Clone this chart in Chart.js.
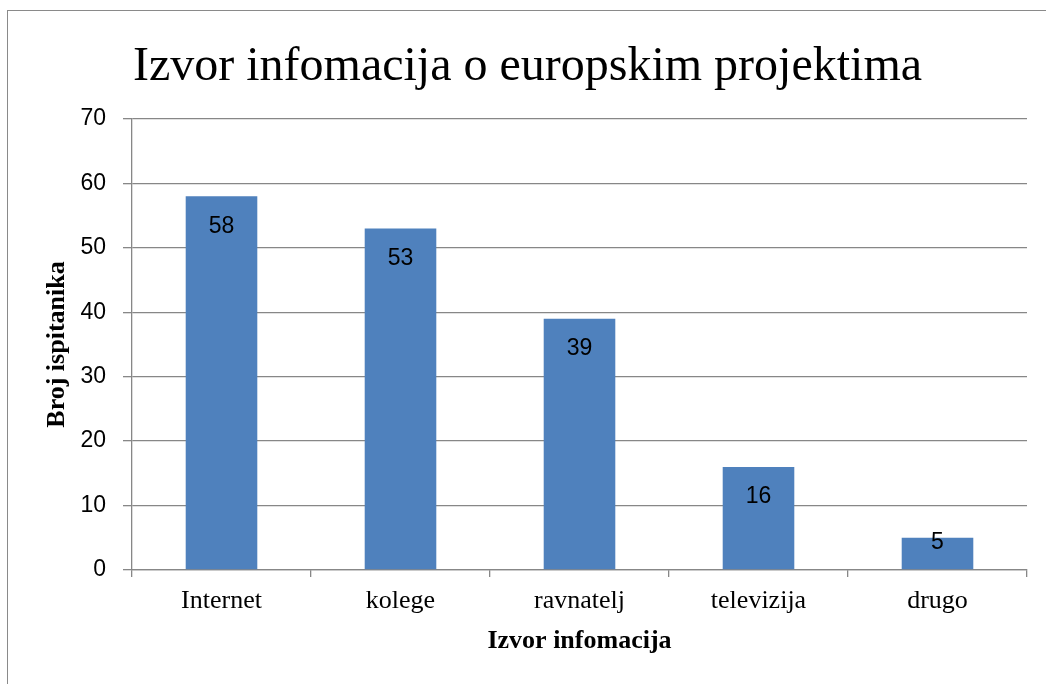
<!DOCTYPE html>
<html>
<head>
<meta charset="utf-8">
<script src="https://cdn.jsdelivr.net/npm/chart.js@4"></script>
<style>
  html, body { margin: 0; padding: 0; background: #ffffff; }
  #wrap { width: 1046px; height: 684px; position: relative; }
</style>
</head>
<body>
<div id="wrap"><canvas id="c" width="1046" height="684"></canvas></div>
<script>
const categories = ['Internet', 'kolege', 'ravnatelj', 'televizija', 'drugo'];
const values = [58, 53, 39, 16, 5];
const chartTitle = 'Izvor infomacija o europskim projektima';
const xTitle = 'Izvor infomacija';
const yTitle = 'Broj ispitanika';
const yMin = 0, yMax = 70, yStep = 10;

const GRID = '#878787';

const framePlugin = {
  id: 'frame',
  beforeDraw(chart) {
    const ctx = chart.ctx;
    ctx.save();
    ctx.fillStyle = '#ffffff';
    ctx.fillRect(0, 0, chart.width, chart.height);
    ctx.strokeStyle = '#8a8a8a';
    ctx.lineWidth = 1;
    ctx.strokeRect(7.5, 10.5, 2000, 2000);
    ctx.restore();
  }
};

const labelPlugin = {
  id: 'barLabels',
  afterDatasetsDraw(chart) {
    const ctx = chart.ctx;
    const meta = chart.getDatasetMeta(0);
    ctx.save();
    ctx.font = '23px "Liberation Sans", Arial, sans-serif';
    ctx.fillStyle = '#000000';
    ctx.textAlign = 'center';
    ctx.textBaseline = 'middle';
    meta.data.forEach((bar, i) => {
      const h = bar.base - bar.y;
      const y = h > 50 ? bar.y + 30 : bar.y + 5;
      ctx.fillText(String(chart.data.datasets[0].data[i]), bar.x, y);
    });
    ctx.restore();
  }
};

new Chart(document.getElementById('c'), {
  type: 'bar',
  data: {
    labels: categories,
    datasets: [{
      data: values,
      backgroundColor: '#4f81bd',
      borderWidth: 0,
      barPercentage: 0.4,
      categoryPercentage: 1.0
    }]
  },
  options: {
    responsive: false,
    animation: false,
    devicePixelRatio: 1,
    layout: { padding: { left: 28, right: 19, top: 0, bottom: 0 } },
    plugins: {
      legend: { display: false },
      tooltip: { enabled: false },
      title: {
        display: true,
        text: chartTitle,
        color: '#000000',
        font: { family: '"Liberation Serif", "Times New Roman", serif', size: 48, weight: 'normal', lineHeight: 1.2 },
        padding: { top: 39, bottom: 22.4 }
      }
    },
    scales: {
      x: {
        offset: true,
        afterFit(scale) { scale.height = 114; },
        border: { display: true, color: GRID, width: 1.3 },
        grid: { display: true, drawOnChartArea: false, drawTicks: true, tickLength: 7, color: GRID, lineWidth: 1.3, offset: true },
        ticks: {
          color: '#000000',
          padding: 9,
          font: { family: '"Liberation Serif", "Times New Roman", serif', size: 26, lineHeight: 1.2 }
        },
        title: {
          display: true,
          text: xTitle,
          color: '#000000',
          font: { family: '"Liberation Serif", "Times New Roman", serif', size: 26, weight: 'bold', lineHeight: 1.2 },
          padding: { top: 0, bottom: 27.4 }
        }
      },
      y: {
        min: yMin,
        max: yMax,
        afterFit(scale) { scale.width = 104; },
        border: { display: true, color: GRID, width: 1.3 },
        grid: { color: GRID, lineWidth: 1.3, drawTicks: true, tickLength: 9 },
        ticks: {
          stepSize: yStep,
          color: '#000000',
          padding: 17,
          font: { family: '"Liberation Sans", Arial, sans-serif', size: 23, lineHeight: 1.2 }
        },
        title: {
          display: true,
          text: yTitle,
          color: '#000000',
          font: { family: '"Liberation Serif", "Times New Roman", serif', size: 26, weight: 'bold', lineHeight: 1.2 },
          padding: { top: 13.6, bottom: 0 }
        }
      }
    }
  },
  plugins: [framePlugin, labelPlugin]
});
</script>
</body>
</html>
